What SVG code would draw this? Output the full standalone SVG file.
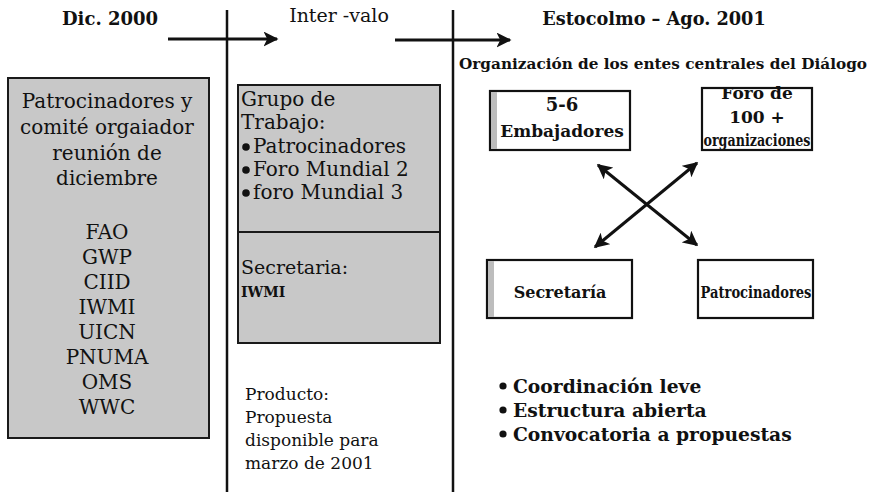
<svg xmlns="http://www.w3.org/2000/svg" width="875" height="492" viewBox="0 0 875 492">
<style>
.bg{fill:#ffffff}
.t{font-family:"DejaVu Serif","Liberation Serif",serif;fill:#111}
.b{font-weight:bold}
.gbox{fill:#c8c8c8;stroke:#1a1a1a;stroke-width:2}
.wbox{fill:#ffffff;stroke:#111;stroke-width:2.2}
.strip{fill:#bdbdbd}
.vl{stroke:#111;stroke-width:2.5}
.arr{stroke:#111;stroke-width:3;fill:none}
</style>
<defs>
<marker id="ah" viewBox="0 0 10 10" refX="9" refY="5" markerWidth="5" markerHeight="5" orient="auto-start-reverse" markerUnits="strokeWidth">
<path d="M0,0 L10,5 L0,10 L2.5,5 Z" fill="#111"/>
</marker>
</defs>
<rect class="bg" x="0" y="0" width="875" height="492"/>

<g id="headers">
<text class="t b" x="110" y="25" font-size="18" text-anchor="middle">Dic. 2000</text>
<text class="t" x="339" y="22" font-size="19" text-anchor="middle" fill="#333">Inter -valo</text>
<text class="t b" x="654" y="25" font-size="17.7" text-anchor="middle">Estocolmo – Ago. 2001</text>
<text class="t b" x="663" y="69" font-size="14.5" text-anchor="middle" textLength="408" lengthAdjust="spacingAndGlyphs">Organización de los entes centrales del Diálogo</text>
</g>

<g id="dividers">
<line class="vl" x1="227" y1="10" x2="227" y2="492"/>
<line class="vl" x1="453" y1="10" x2="453" y2="492"/>
</g>

<g id="col-dic">
<rect class="gbox" x="8" y="78" width="201" height="360"/>
<g class="t" font-size="20" text-anchor="middle" fill="#222">
<text x="107" y="108">Patrocinadores y</text>
<text x="107" y="134">comité orgaiador</text>
<text x="107" y="160">reunión de</text>
<text x="107" y="185">diciembre</text>
<text x="107" y="239">FAO</text>
<text x="107" y="264">GWP</text>
<text x="107" y="289">CIID</text>
<text x="107" y="314">IWMI</text>
<text x="107" y="339">UICN</text>
<text x="107" y="364">PNUMA</text>
<text x="107" y="389">OMS</text>
<text x="107" y="414">WWC</text>
</g>
</g>

<g id="grupo-trabajo">
<rect class="gbox" x="238" y="85" width="202" height="147"/>
<g class="t" font-size="20" fill="#222">
<text x="241" y="106">Grupo de</text>
<text x="241" y="129">Trabajo:</text>
<text x="253" y="153">Patrocinadores</text>
<text x="253" y="176">Foro Mundial 2</text>
<text x="253" y="199">foro Mundial 3</text>
</g>
<circle cx="246" cy="147" r="3.8" fill="#111"/>
<circle cx="246" cy="170" r="3.8" fill="#111"/>
<circle cx="246" cy="193" r="3.8" fill="#111"/>
</g>

<g id="secretaria-box">
<rect class="gbox" x="238" y="232" width="202" height="111"/>
<text class="t" x="241" y="274" font-size="19" fill="#222">Secretaria:</text>
<text class="t b" x="241" y="297" font-size="14" fill="#222">IWMI</text>
</g>

<g id="producto">
<g class="t" font-size="17" fill="#222">
<text x="245" y="400">Producto:</text>
<text x="245" y="423">Propuesta</text>
<text x="245" y="446">disponible para</text>
<text x="245" y="469">marzo de 2001</text>
</g>
</g>

<g id="embajadores">
<rect class="wbox" x="490" y="91" width="140" height="59"/>
<rect class="strip" x="491" y="92" width="6" height="57"/>
<text class="t b" x="562" y="111" font-size="18" text-anchor="middle">5-6</text>
<text class="t b" x="562" y="137" font-size="17" text-anchor="middle">Embajadores</text>
</g>

<g id="foro">
<rect class="wbox" x="702" y="88" width="110" height="62"/>
<text class="t b" x="757" y="99" font-size="17" text-anchor="middle">Foro de</text>
<text class="t b" x="757" y="123" font-size="17" text-anchor="middle">100 +</text>
<text class="t b" x="757" y="146" font-size="16" text-anchor="middle" textLength="107" lengthAdjust="spacingAndGlyphs">organizaciones</text>
</g>

<g id="secretaria">
<rect class="wbox" x="487" y="260" width="145" height="58"/>
<rect class="strip" x="488" y="261" width="6" height="56"/>
<text class="t b" x="560" y="298" font-size="16" text-anchor="middle">Secretaría</text>
</g>

<g id="patrocinadores">
<rect class="wbox" x="698" y="260" width="115" height="58"/>
<text class="t b" x="756" y="298" font-size="16.5" text-anchor="middle" textLength="111" lengthAdjust="spacingAndGlyphs">Patrocinadores</text>
</g>

<g id="features">
<g class="t b" font-size="18.7">
<text x="513" y="393">Coordinación leve</text>
<text x="513" y="417">Estructura abierta</text>
<text x="513" y="441">Convocatoria a propuestas</text>
</g>
<circle cx="503" cy="386" r="3.6" fill="#111"/>
<circle cx="503" cy="410" r="3.6" fill="#111"/>
<circle cx="503" cy="434" r="3.6" fill="#111"/>
</g>

<g id="connectors">
<line class="arr" x1="168" y1="39" x2="277" y2="39" marker-end="url(#ah)"/>
<line class="arr" x1="395" y1="40" x2="510" y2="40" marker-end="url(#ah)"/>
<line class="arr" x1="598" y1="165" x2="697" y2="245" marker-start="url(#ah)" marker-end="url(#ah)"/>
<line class="arr" x1="697" y1="163" x2="595" y2="247" marker-start="url(#ah)" marker-end="url(#ah)"/>
</g>
</svg>
